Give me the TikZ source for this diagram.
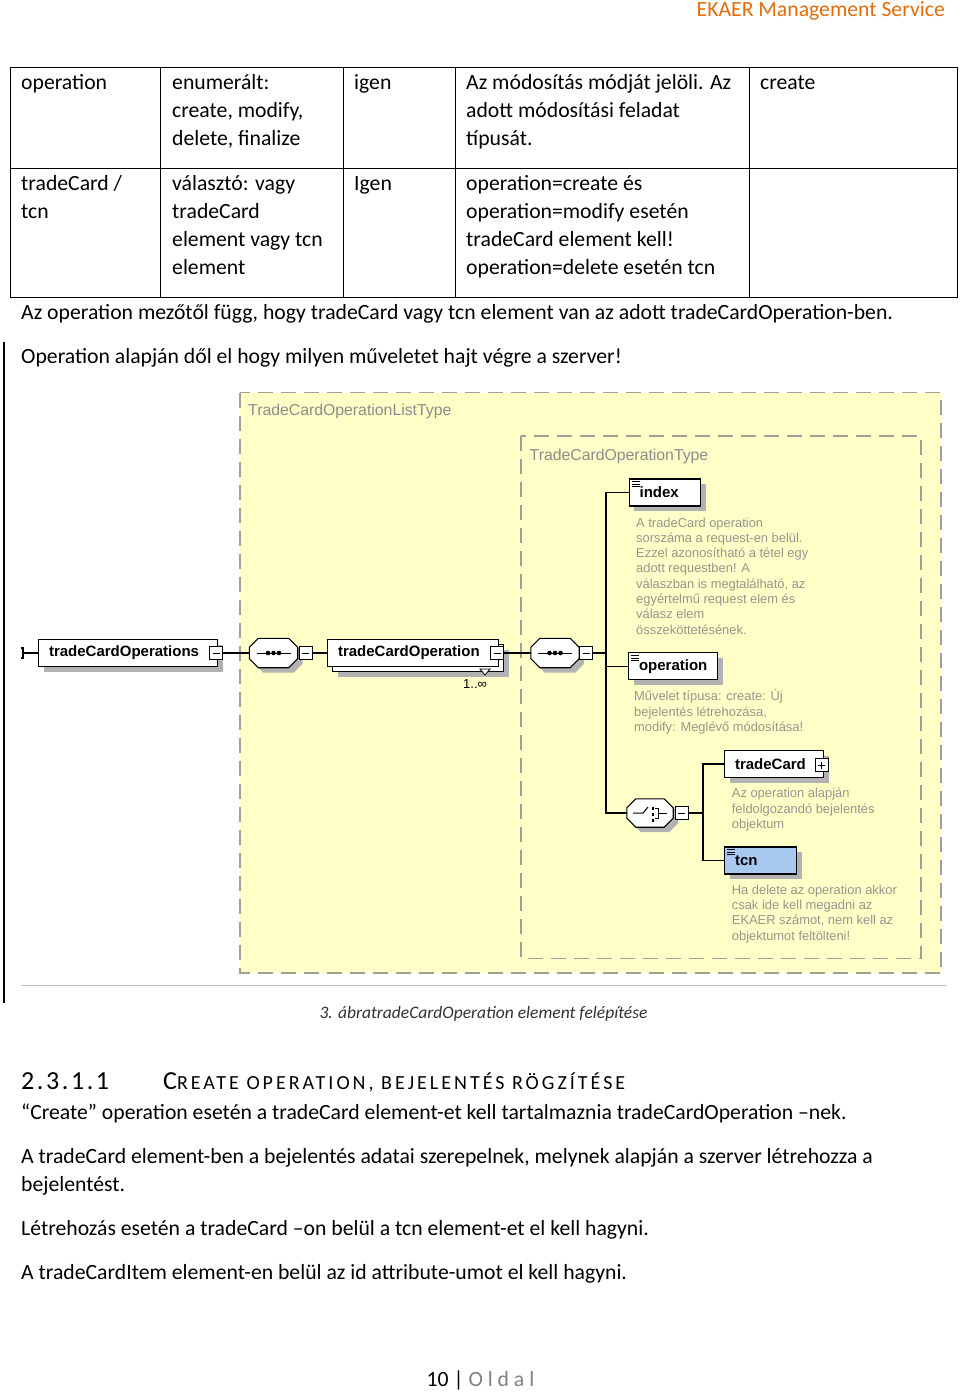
\documentclass[tikz,border=0pt]{standalone}
\usepackage{fontspec}
\setmainfont{Carlito}
\newfontfamily\diafont{Liberation Sans}
\newfontfamily\numfont[LetterSpace=10]{Carlito}
\newfontfamily\headfont[LetterSpace=15]{Carlito}
\usetikzlibrary{positioning, calc, shadows}
\definecolor{ekaer}{RGB}{228,108,10}
\definecolor{sema}{RGB}{255,255,200}
\definecolor{keret}{RGB}{160,160,150}
\definecolor{doku}{RGB}{150,150,140}
\definecolor{tcnkek}{RGB}{168,200,240}

% chamfered compositor outline around an empty node
\newcommand{\compbox}[1]{%
  \draw[wire, fill=white, drop shadow={shadow xshift=5pt, shadow yshift=-5pt, fill=black!30, opacity=1}]
    ($(#1.north west)+(9,0)$) -- ($(#1.north east)+(-9,0)$) -- ($(#1.north east)+(0,9)$)
    -- ($(#1.south east)+(0,-9)$) -- ($(#1.south east)+(-9,0)$) -- ($(#1.south west)+(9,0)$)
    -- ($(#1.south west)+(0,-9)$) -- ($(#1.north west)+(0,9)$) -- cycle;}
% three short lines in the corner of a simple element
\newcommand{\listicon}[1]{%
  \foreach \dy in {3,5.5,8}
    \draw[line width=0.6pt] ($(#1.north west)+(3,\dy)$) -- ++(8,0);}

\begin{document}
\begin{tikzpicture}[x=1pt, y=-1pt,
  txt/.style={anchor=base west, inner sep=0pt, align=left, font=\fontsize{21.7}{28}\selectfont},
  doc/.style={anchor=base west, inner sep=0pt, align=left, text=doku, font=\diafont\fontsize{12.9}{15.3}\selectfont},
  typename/.style={anchor=base west, inner sep=0pt, text=black!45, font=\diafont\fontsize{15.8}{18}\selectfont},
  elemflat/.style={draw, fill=white, line width=1.1pt, anchor=west, inner xsep=10.5pt, inner ysep=0pt,
    minimum height=27pt, align=left, font=\diafont\bfseries\fontsize{15}{18}\selectfont},
  elem/.style={elemflat, drop shadow={shadow xshift=5pt, shadow yshift=-5pt, fill=black!30, opacity=1}},
  minus/.style={draw, fill=white, line width=0.8pt, minimum size=13pt, inner sep=0pt,
    path picture={\draw[line width=0.9pt] ([xshift=3pt]path picture bounding box.west) -- ([xshift=-3pt]path picture bounding box.east);}},
  plus/.style={draw, fill=white, line width=0.8pt, minimum size=13pt, inner sep=0pt,
    path picture={\draw[line width=0.9pt] ([xshift=3pt]path picture bounding box.west) -- ([xshift=-3pt]path picture bounding box.east);
      \draw[line width=0.9pt] ([yshift=3pt]path picture bounding box.south) -- ([yshift=-3pt]path picture bounding box.north);}},
  comp/.style={minimum width=48pt, minimum height=29pt, inner sep=0pt},
  wire/.style={line width=1.1pt},
  typebox/.style={draw=keret, line width=1.5pt, dash pattern=on 15pt off 8pt}]

  \useasboundingbox (0,0) rectangle (960,1393);
  \fill[white] (0,0) rectangle (960,1393);

  % header
  \node[txt, anchor=base east, text=ekaer] (header) at (945,16) {EKAER Management Service};

  % table (multi-line cells sit on the baseline of their last line)
  \draw[line width=0.8pt] (10,67) rectangle (957,297);
  \draw[line width=0.8pt] (10,168) -- (957,168);
  \foreach \x in {160,343,455,749}
    \draw[line width=0.8pt] (\x,67) -- (\x,297);
  \node[txt] (c11) at (21,89) {operation};
  \node[txt] (c12) at (172,145) {enumerált:\\create, modify,\\delete, finalize};
  \node[txt] (c13) at (354,89) {igen};
  \node[txt] (c14) at (466,145) {Az módosítás módját jelöli. Az\\adott módosítási feladat\\típusát.};
  \node[txt] (c15) at (760,89) {create};
  \node[txt] (c21) at (21,218) {tradeCard /\\tcn};
  \node[txt] (c22) at (172,274) {választó: vagy\\tradeCard\\element vagy tcn\\element};
  \node[txt] (c23) at (354,190) {Igen};
  \node[txt] (c24) at (466,274) {operation=create és\\operation=modify esetén\\tradeCard element kell!\\operation=delete esetén tcn};

  \node[txt] (par1) at (21,319) {Az operation mezőtől függ, hogy tradeCard vagy tcn element van az adott tradeCardOperation-ben.};
  \node[txt] (par2) at (21,363) {Operation alapján dől el hogy milyen műveletet hajt végre a szerver!};

  % figure frame
  \draw[line width=1.2pt] (4,342) -- (4,1003);
  \fill[sema] (240,392.5) rectangle (941,973);
  \draw[typebox] (240,392.5) rectangle (941,973);
  \draw[typebox] (521,436) rectangle (921,958.5);
  \node[typename] (listtype) at (248,415.7) {TradeCardOperationListType};
  \node[typename] (optype) at (529.5,460) {TradeCardOperationType};

  % main row
  \coordinate (root) at (23,653);
  \node[elem, text width=158pt] (tcops) at (38,653) {tradeCardOperations};
  \node[minus] (mA) at (216,653) {};
  \node[comp] (seqA) at (273.5,653) {};
  \compbox{seqA}
  \node[minus] (mB) at (305.5,653) {};
  \node[elem, text width=150pt] (tcopback) at (332,658) {};
  \node[elemflat, text width=150pt] (tcop) at (327,653) {tradeCardOperation};
  \node[minus] (mC) at (497,653) {};
  \node[anchor=base west, inner sep=0pt, font=\diafont\fontsize{13}{15}\selectfont] (mult) at (463,688) {1..∞};
  \node[comp] (seqB) at (555,653) {};
  \compbox{seqB}
  \node[minus] (mD) at (586,653) {};
  \coordinate (fork) at (606,653);

  % sequence marks
  \foreach \s in {seqA,seqB} {
    \draw[line width=1pt] ($(\s.center)+(-17,0)$) -- ($(\s.center)+(17,0)$);
    \foreach \dx in {-5.5,0,5.5}
      \fill ($(\s.center)+(\dx,0)$) circle (2.3pt);
  }

  % children of TradeCardOperationType
  \node[elem, text width=50.4pt] (index) at (628.6,492.5) {index};
  \listicon{index}
  \node[doc] (indexdoc) at (636,634.1) {A tradeCard operation\\sorszáma a request-en belül.\\Ezzel azonosítható a tétel egy\\adott requestben! A\\válaszban is megtalálható, az\\egyértelmű request elem és\\válasz elem\\összeköttetésének.};
  \node[elem, text width=68pt] (operation) at (628,666.4) {operation};
  \listicon{operation}
  \node[doc] (operationdoc) at (634,731.3) {Művelet típusa: create: Új\\bejelentés létrehozása,\\modify: Meglévő módosítása!};

  % choice
  \node[comp, minimum width=46pt, minimum height=28pt] (choice) at (650,813) {};
  \compbox{choice}
  \draw[line width=1pt] ($(choice.center)+(-17,0)$) -- ($(choice.center)+(-7,0)$) -- ($(choice.center)+(-2,-6)$);
  \foreach \dy in {-6,0,6}
    \fill ($(choice.center)+(1.5,\dy)$) rectangle ++(2.6,2.6);
  \draw[line width=1pt] ($(choice.center)+(5,-5)$) -- ($(choice.center)+(8,-5)$) -- ($(choice.center)+(8,5)$) -- ($(choice.center)+(5,5)$);
  \draw[line width=1pt] ($(choice.center)+(8,0)$) -- ($(choice.center)+(17,0)$);
  \node[minus] (mE) at (681.5,813) {};
  \coordinate (fork2) at (703,813);

  \node[elem, text width=78pt] (tradeCard) at (724,764) {tradeCard};
  \node[plus] (pF) at (821.5,765) {};
  \node[doc] (tradeCarddoc) at (731.7,828.3) {Az operation alapján\\feldolgozandó bejelentés\\objektum};
  \node[elem, text width=51pt, fill=tcnkek] (tcn) at (724,860.5) {tcn};
  \listicon{tcn}
  \node[doc] (tcndoc) at (731.7,940.2) {Ha delete az operation akkor\\csak ide kell megadni az\\EKAER számot, nem kell az\\objektumot feltölteni!};

  % connectors
  \draw[wire] ($(root)+(-2,-5)$) -- ($(root)+(0,-5)$) -- ($(root)+(0,5)$) -- ($(root)+(-2,5)$);
  \draw[wire] (root) -- (tcops.west);
  \draw[wire] (mA.east) -- (seqA.west);
  \draw[wire] (mB.east) -- (tcop.west);
  \draw[wire] (mC.east) -- (seqB.west);
  \draw[wire] (mD.east) -- (fork);
  \draw[wire] (index.west) -| (fork) |- (choice.west);
  \draw[wire] (operation.west) -| (fork);
  \draw[wire] (mE.east) -- (fork2);
  \draw[wire] (tradeCard.west) -| (fork2) |- (tcn.west);
  \draw[line width=0.8pt, fill=white] (480,669) -- (490,669) -- (485,675) -- cycle;

  % caption
  \draw[black!25, line width=0.8pt] (21,985) -- (946,985);
  \node[txt, anchor=base, text=black!80, font=\itshape\fontsize{17.5}{20}\selectfont] (caption) at (483.5,1018) {3. ábratradeCardOperation element felépítése};

  % section
  \node[txt, font=\numfont\fontsize{26}{30}\selectfont] (secnum) at (21,1089) {2.3.1.1};
  \node[txt, font=\headfont\fontsize{20}{30}\selectfont] (sectitle) at (163,1089) {{\fontsize{26}{30}\selectfont C}REATE OPERATION, BEJELENTÉS RÖGZÍTÉSE};
  \node[txt] (par3) at (21,1119) {“Create” operation esetén a tradeCard element-et kell tartalmaznia tradeCardOperation –nek.};
  \node[txt] (par4) at (21,1191) {A tradeCard element-ben a bejelentés adatai szerepelnek, melynek alapján a szerver létrehozza a\\bejelentést.};
  \node[txt] (par5) at (21,1235) {Létrehozás esetén a tradeCard –on belül a tcn element-et el kell hagyni.};
  \node[txt] (par6) at (21,1279) {A tradeCardItem element-en belül az id attribute-umot el kell hagyni.};

  % footer
  \node[txt, anchor=base] (footer) at (480.5,1386) {10 | \textcolor{black!50}{O l d a l}};
\end{tikzpicture}
\end{document}
